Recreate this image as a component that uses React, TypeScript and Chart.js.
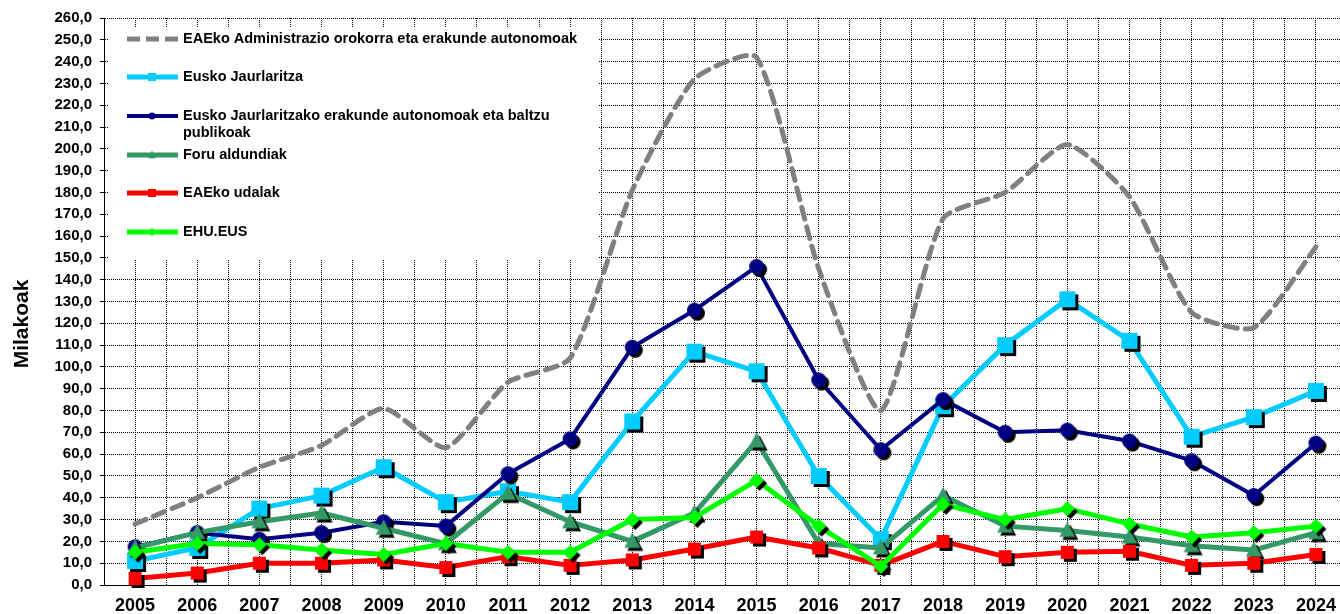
import React, { useEffect, useRef } from 'react';
import { Chart, registerables } from 'chart.js';

Chart.register(...registerables);

const years = [2005, 2006, 2007, 2008, 2009, 2010, 2011, 2012, 2013, 2014, 2015, 2016, 2017, 2018, 2019, 2020, 2021, 2022, 2023, 2024];

const adminOrokorra = [28, 40, 54, 64, 81, 63, 93, 104, 181, 232, 242, 145, 80, 168, 180, 202, 178, 125, 118, 155];
const euskoJaurlaritza = [11, 17, 35, 41, 54, 38, 43, 38, 75, 107, 98, 50, 21, 82, 110, 131, 112, 68, 77, 89];
const erakundeAutonomoak = [17.5, 24, 21, 24, 29, 27, 51, 67, 109, 126, 146, 94, 62, 85, 70, 71, 66, 57, 41, 65];
const foruAldundiak = [17, 24, 29, 33, 26, 19, 42, 29, 20, 33, 66, 19, 17, 41, 27, 25, 22, 18, 16, 24];
const udalak = [3, 5.5, 10, 10, 11.5, 8, 13, 9, 11.5, 16.5, 22, 17, 9, 20, 13, 15, 15.5, 9, 10, 14];
const ehu = [15, 19, 18.5, 16, 14, 19, 15, 15, 30, 31, 48, 27, 8.5, 37, 30, 35, 28, 22, 24, 27];

const seriesLabels = [
  'EAEko Administrazio orokorra eta erakunde autonomoak',
  'Eusko Jaurlaritza',
  'Eusko Jaurlaritzako erakunde autonomoak eta baltzu publikoak',
  'Foru aldundiak',
  'EAEko udalak',
  'EHU.EUS',
];
const legendLines = [
  ['EAEko Administrazio orokorra eta erakunde autonomoak'],
  ['Eusko Jaurlaritza'],
  ['Eusko Jaurlaritzako erakunde autonomoak eta baltzu', 'publikoak'],
  ['Foru aldundiak'],
  ['EAEko udalak'],
  ['EHU.EUS'],
];
const yTitle = 'Milakoak';

const FONT = "'Liberation Sans', Arial, sans-serif";

type Shape = 'none' | 'square' | 'circle' | 'triangle' | 'diamond';

function shapePath(ctx: CanvasRenderingContext2D, shape: Shape, x: number, y: number, s: number) {
  ctx.beginPath();
  if (shape === 'square') {
    ctx.rect(x - s / 2, y - s / 2, s, s);
  } else if (shape === 'circle') {
    ctx.arc(x, y, s / 2, 0, Math.PI * 2);
  } else if (shape === 'triangle') {
    ctx.moveTo(x, y - s * 0.55);
    ctx.lineTo(x + s / 2, y + s * 0.4);
    ctx.lineTo(x - s / 2, y + s * 0.4);
    ctx.closePath();
  } else if (shape === 'diamond') {
    ctx.moveTo(x, y - s / 2);
    ctx.lineTo(x + s / 2, y);
    ctx.lineTo(x, y + s / 2);
    ctx.lineTo(x - s / 2, y);
    ctx.closePath();
  }
}

function makeMarker(shape: Shape, size: number, color: string, shadow: number) {
  const pad = shadow + 2;
  const dim = Math.ceil(size + pad * 2);
  const c = document.createElement('canvas');
  c.width = dim;
  c.height = dim;
  const ctx = c.getContext('2d')!;
  const cx = dim / 2;
  const cy = dim / 2;
  if (shadow) {
    ctx.fillStyle = '#000';
    shapePath(ctx, shape, cx + shadow, cy + shadow, size);
    ctx.fill();
  }
  ctx.fillStyle = color;
  shapePath(ctx, shape, cx, cy, size);
  ctx.fill();
  return c;
}

const styles: { color: string; width: number; shape: Shape; size: number; legendSize: number }[] = [
  { color: '#808080', width: 5, shape: 'none', size: 0, legendSize: 0 },
  { color: '#00CCFF', width: 5, shape: 'square', size: 16, legendSize: 8 },
  { color: '#000080', width: 4, shape: 'circle', size: 15, legendSize: 7 },
  { color: '#339966', width: 5, shape: 'triangle', size: 16, legendSize: 8 },
  { color: '#FF0000', width: 5, shape: 'square', size: 13, legendSize: 8 },
  { color: '#00FF00', width: 5, shape: 'diamond', size: 15, legendSize: 8 },
];

const seriesValues = [adminOrokorra, euskoJaurlaritza, erakundeAutonomoak, foruAldundiak, udalak, ehu];

const legendPlugin = {
  id: 'customLegend',
  beforeDatasetsDraw(chart: any) {
    const ctx: CanvasRenderingContext2D = chart.ctx;
    ctx.save();
    ctx.fillStyle = '#fff';
    ctx.fillRect(108, 27, 490, 233);
    const rowsY = [39, 77, 116, 155, 193, 232];
    ctx.font = `bold 14.5px ${FONT}`;
    ctx.textBaseline = 'middle';
    ctx.textAlign = 'left';
    styles.forEach((st, i) => {
      const y = rowsY[i];
      ctx.strokeStyle = st.color;
      ctx.lineWidth = st.width;
      ctx.setLineDash(i === 0 ? [13, 6] : []);
      ctx.beginPath();
      ctx.moveTo(127, y);
      ctx.lineTo(178, y);
      ctx.stroke();
      ctx.setLineDash([]);
      if (st.shape !== 'none') {
        ctx.fillStyle = st.color;
        shapePath(ctx, st.shape, 152, y, st.legendSize);
        ctx.fill();
      }
      ctx.fillStyle = '#000';
      legendLines[i].forEach((line, j) => {
        ctx.fillText(line, 183, y + j * 17);
      });
    });
    ctx.restore();
  },
  afterDraw(chart: any) {
    const ctx: CanvasRenderingContext2D = chart.ctx;
    ctx.save();
    ctx.translate(22, 324);
    ctx.rotate(-Math.PI / 2);
    ctx.font = `bold 21px ${FONT}`;
    ctx.fillStyle = '#000';
    ctx.textAlign = 'center';
    ctx.textBaseline = 'middle';
    ctx.fillText(yTitle, 0, 0);
    ctx.restore();
  },
};

export default function App() {
  const ref = useRef<HTMLCanvasElement | null>(null);

  useEffect(() => {
    if (!ref.current) return;
    const datasets = seriesValues.map((vals, i) => {
      const st = styles[i];
      const marker = st.shape === 'none' ? undefined : makeMarker(st.shape, st.size, st.color, 3);
      return {
        label: seriesLabels[i],
        data: years.map((yr, k) => ({ x: yr, y: vals[k] })),
        borderColor: st.color,
        backgroundColor: st.color,
        borderWidth: st.width,
        borderDash: i === 0 ? [12, 8] : [],
        borderCapStyle: i === 0 ? 'round' : 'butt',
        borderJoinStyle: 'round',
        tension: i === 0 ? 0.2 : 0,
        pointRadius: st.shape === 'none' ? 0 : 8,
        pointHoverRadius: st.shape === 'none' ? 0 : 8,
        pointStyle: marker as any,
        order: 6 - i,
        clip: false as any,
      };
    });

    const chart = new Chart(ref.current, {
      type: 'line',
      data: { datasets: datasets as any },
      options: {
        animation: false,
        responsive: false,
        maintainAspectRatio: false,
        layout: { padding: { top: 18, right: 12, left: 0, bottom: 0 } },
        plugins: {
          legend: { display: false },
          tooltip: { enabled: false },
          title: { display: false },
        },
        scales: {
          x: {
            type: 'linear',
            min: 2004.5,
            max: 2024.5,
            ticks: {
              stepSize: 0.5,
              autoSkip: false,
              maxRotation: 0,
              minRotation: 0,
              includeBounds: false,
              padding: 10,
              color: '#000',
              font: { family: FONT, size: 18, weight: 'bold' },
              callback: (v: any) => (Number.isInteger(Number(v)) ? String(v) : ''),
            },
            grid: { color: '#000', lineWidth: 1, drawTicks: false },
            border: { color: '#000', dash: [1, 1] },
            afterFit: (s: any) => {
              s.height = 29;
            },
          } as any,
          y: {
            min: 0,
            max: 260,
            ticks: {
              stepSize: 10,
              autoSkip: false,
              padding: 8,
              color: '#000',
              font: { family: FONT, size: 15, weight: 'bold' },
              callback: (v: any) => Number(v).toFixed(1).replace('.', ','),
            },
            grid: { color: '#000', lineWidth: 1, tickLength: 4 },
            border: { color: '#000', dash: [1, 1] },
            afterFit: (s: any) => {
              s.width = 104;
            },
          } as any,
        },
      },
      plugins: [legendPlugin],
    });
    return () => chart.destroy();
  }, []);

  return (
    <div style={{ position: 'fixed', left: 0, top: 0, width: 1340, height: 614, overflow: 'hidden', background: '#fff' }}>
      <canvas ref={ref} width={1360} height={614} style={{ width: 1360, height: 614, display: 'block' }} />
    </div>
  );
}
